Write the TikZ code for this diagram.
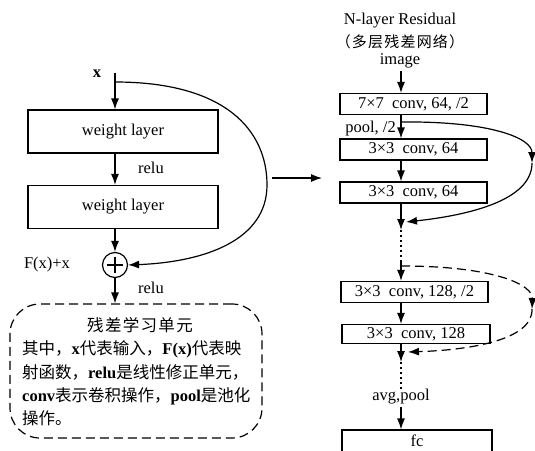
\documentclass[tikz,border=0pt]{standalone}
\usepackage{fontspec}
\setmainfont{Liberation Serif}
\newfontfamily\cjk{Noto Sans CJK SC}
\newfontfamily\cjkwide{Noto Sans CJK SC}[LetterSpace=8]
\usetikzlibrary{arrows.meta,calc}

\begin{document}
\begin{tikzpicture}[x=1pt,y=-1pt,
  every node/.style={font=\fontsize{16.5}{20}\selectfont, inner sep=0pt},
  ln/.style={line width=1.2pt},
  tip/.style={ln,-{Latex[length=11pt,width=8pt]}},
  layerbox/.style={draw, line width=1.2pt, minimum width=190pt, minimum height=43pt},
  convbox/.style={draw, line width=1.2pt, minimum width=147pt, minimum height=21pt},
  plusmark/.style={line width=1.1pt},
  dashline/.style={ln, dash pattern=on 9pt off 5pt},
  dotline/.style={line width=1.7pt, dash pattern=on 1.7pt off 3.3pt},
  cjktext/.style={font=\fontsize{16.5}{20}\selectfont\cjk},
]
\useasboundingbox (0,0) rectangle (535,450);

% ---------- residual unit ----------
\node[font=\fontsize{16.5}{20}\selectfont\bfseries] (xin) at (97,74) {x};
\coordinate (xtop) at (115,73);
\coordinate (skipL) at (115,82);
\node[layerbox] (w1) at (123,131.5) {weight layer};
\node[layerbox] (w2) at (123,207) {weight layer};
\node[circle, draw, line width=1.2pt, minimum size=25pt] (sum) at (115,265) {};
\draw[plusmark] ($(sum.center)+(-8,0)$) -- ($(sum.center)+(8,0)$);
\draw[plusmark] ($(sum.center)+(0,-8)$) -- ($(sum.center)+(0,8)$);
\node (fx) at (47,265) {F(x)+x};
\node (relu1) at (151,168) {relu};
\node (relu2) at (151,288) {relu};

\draw[tip] (xtop) -- (xtop |- w1.north);
\draw[tip] (w1.south -| xtop) -- (w2.north -| xtop);
\draw[tip] (w2.south -| xtop) -- (sum.north);
\draw[ln] (skipL) -- (xtop);
\draw[tip] (skipL) .. controls (225,82) and (267,130) .. (267,185)
                   .. controls (267,240) and (205,262) .. (sum.east);

% ---------- note box ----------
\node[draw, dashline, rounded corners=30pt, minimum width=252pt, minimum height=134pt] (note) at (136,371) {};
\draw[tip] (sum.south) -- (sum.south |- note.north);
\node[font=\fontsize{16.5}{20}\selectfont\cjkwide] (nt) at (140,325) {残差学习单元};
\node[cjktext, anchor=base west] (n1) at (22,354)
  {其中，\textbf{\rmfamily x}代表输入，\textbf{\rmfamily F(x)}代表映};
\node[cjktext, anchor=base west] (n2) at (22,378)
  {射函数，\textbf{\rmfamily relu}是线性修正单元，};
\node[cjktext, anchor=base west] (n3) at (22,401)
  {\textbf{\rmfamily conv}表示卷积操作，\textbf{\rmfamily pool}是池化};
\node[cjktext, anchor=base west] (n4) at (22,424) {操作。};

% ---------- link arrow ----------
\coordinate (ma) at (272,178);
\coordinate (mb) at (322,178);
\draw[tip] (ma) -- (mb);

% ---------- N-layer network ----------
\node (t1) at (400,21) {N-layer Residual};
\node[font=\fontsize{15}{18}\selectfont\cjkwide] (t2) at (400,42) {（多层残差网络）};
\node (t3) at (400,61) {image};
\coordinate (rx) at (401,0);

\node[convbox] (c1) at (413.5,104) {7×7\ \ conv, 64, /2};
\node[convbox] (c2) at (413.5,149.5) {3×3\ \ conv, 64};
\node[convbox] (c3) at (413.5,192.5) {3×3\ \ conv, 64};
\node[convbox] (c4) at (414.5,292) {3×3\ \ conv, 128, /2};
\node[convbox, minimum width=148pt, minimum height=19pt] (c5) at (416,334) {3×3\ \ conv, 128};
\node[draw, line width=1.2pt, minimum width=150pt, minimum height=40pt] (fc) at (417,450) {};
\node (fct) at (417,440.5) {fc};
\node[anchor=east] (pool) at (396,129) {pool, /2};
\node (avg) at (401,397) {avg,pool};

\coordinate (j1) at (401,122);
\coordinate (m1) at (401,230);
\coordinate (d1) at (401,262);
\coordinate (j2) at (401,266);
\coordinate (m2) at (401,362);
\coordinate (d2) at (401,389);
\coordinate (d3) at (401,407);
\coordinate (r1) at (532,163);
\coordinate (r2) at (532,309);

\draw[tip] (t3.south -| rx) ++(0,3) -- (c1.north -| rx);
\draw[tip] (c1.south -| rx) -- (c2.north -| rx);
\draw[tip] (c2.south -| rx) -- (c3.north -| rx);
\draw[tip] (c3.south -| rx) -- (m1);
\draw[dotline] (m1) -- (d1);
\draw[ln] (d1) -- (j2);
\draw[tip] (j2) -- (c4.north -| rx);
\draw[tip] (c4.south -| rx) -- (c5.north -| rx);
\draw[tip] (c5.south -| rx) -- (m2);
\draw[dotline] (m2) -- (d2);
\draw[tip] (d3) -- (fc.north -| rx);

% shortcut connections
\draw[tip] (j1) .. controls (490,121) and (532,138) .. (r1);
\draw[tip] (r1) .. controls (532,200) and (470,215) .. ($(m1)+(5,-8)$);
\draw[dashline, -{Latex[length=11pt,width=8pt]}] (j2) .. controls (495,266) and (533,285) .. (r2);
\draw[dashline, -{Latex[length=11pt,width=8pt]}] (r2) .. controls (533,340) and (470,350) .. ($(m2)+(7,-10)$);
\end{tikzpicture}
\end{document}
